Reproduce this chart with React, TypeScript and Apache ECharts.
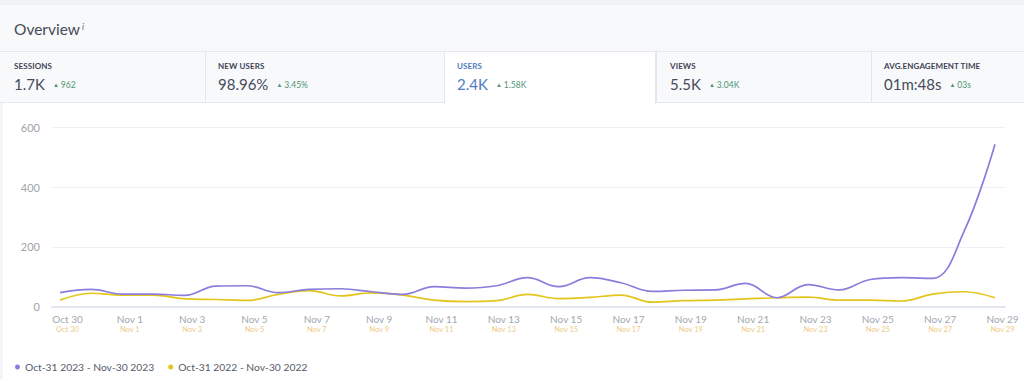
import React, { useEffect, useRef } from "react";
import * as echarts from "echarts";

const categories = [
  "Oct 30", "Oct 31", "Nov 1", "Nov 2", "Nov 3", "Nov 4", "Nov 5", "Nov 6", "Nov 7", "Nov 8",
  "Nov 9", "Nov 10", "Nov 11", "Nov 12", "Nov 13", "Nov 14", "Nov 15", "Nov 16", "Nov 17", "Nov 18",
  "Nov 19", "Nov 20", "Nov 21", "Nov 22", "Nov 23", "Nov 24", "Nov 25", "Nov 26", "Nov 27", "Nov 28", "Nov 29",
];
const current2023 = [
  47, 58, 42, 42, 38, 69, 70, 47, 58, 60,
  50, 41, 67, 62, 70, 97, 67, 97, 80, 51,
  55, 56, 78, 30, 74, 56, 91, 97, 95, 250, 543,
];
const previous2022 = [
  22, 45, 39, 39, 26, 24, 21, 41, 54, 36,
  46, 39, 22, 17, 20, 41, 27, 31, 39, 15,
  20, 22, 26, 30, 32, 22, 22, 19, 42, 50, 30,
];
const seriesNames = ["Oct-31 2023 - Nov-30 2023", "Oct-31 2022 - Nov-30 2022"];
const yTicks = { min: 0, max: 600, interval: 200 };

const tabs = [
  { label: "SESSIONS", value: "1.7K", delta: "962", left: 0, width: 205, x: 14 },
  { label: "NEW USERS", value: "98.96%", delta: "3.45%", left: 205, width: 239, x: 218 },
  { label: "USERS", value: "2.4K", delta: "1.58K", left: 444, width: 212, x: 457, active: true },
  { label: "VIEWS", value: "5.5K", delta: "3.04K", left: 656, width: 215, x: 670 },
  { label: "AVG.ENGAGEMENT TIME", value: "01m:48s", delta: "03s", left: 871, width: 153, x: 884 },
];

const FONT = "Lato, 'Open Sans', sans-serif";

function Chart() {
  const ref = useRef<HTMLDivElement>(null);
  useEffect(() => {
    if (!ref.current) return;
    const chart = echarts.init(ref.current, undefined, { renderer: "svg" });
    chart.setOption({
      animation: false,
      textStyle: { fontFamily: FONT },
      legend: {
        left: 10,
        top: 254,
        icon: "circle",
        itemWidth: 5,
        itemHeight: 5,
        itemGap: 14,
        textStyle: { fontSize: 10.3, color: "#555b68", fontFamily: FONT },
        data: seriesNames,
      },
      grid: [
        { left: 52, right: 19, top: 24.3, bottom: 72.3 },
        { left: 60, right: 29, top: 24.3, bottom: 72.3 },
      ],
      xAxis: [
        {
          gridIndex: 0,
          type: "category",
          data: categories,
          boundaryGap: false,
          axisLine: { show: true, lineStyle: { color: "#e2e6ee", width: 2 } },
          axisTick: { show: false },
          axisLabel: { show: false },
          splitLine: { show: false },
        },
        {
          gridIndex: 1,
          type: "category",
          data: categories,
          boundaryGap: false,
          axisLine: { show: false },
          axisTick: { show: false },
          splitLine: { show: false },
          axisLabel: {
            interval: 1,
            margin: 6,
            padding: [0, 0, 0, 15],
            formatter: (v: string) => `{a|${v}}\n{b|${v}}`,
            rich: {
              a: { fontSize: 10, color: "#a3a7b0", lineHeight: 12, fontFamily: FONT, align: "center" },
              b: { fontSize: 7.5, color: "#eecb85", lineHeight: 10, fontFamily: FONT, align: "center" },
            },
          },
        },
      ],
      yAxis: [
        {
          gridIndex: 0,
          type: "value",
          min: yTicks.min,
          max: yTicks.max,
          interval: yTicks.interval,
          axisLine: { show: false },
          axisTick: { show: false },
          axisLabel: { color: "#a0a4ad", fontSize: 11, margin: 12, fontFamily: FONT },
          splitLine: { lineStyle: { color: "#eef0f4", width: 1 } },
        },
        {
          gridIndex: 1,
          type: "value",
          min: yTicks.min,
          max: yTicks.max,
          interval: yTicks.interval,
          show: false,
          splitLine: { show: false },
        },
      ],
      series: [
        {
          name: seriesNames[0],
          type: "line",
          xAxisIndex: 1,
          yAxisIndex: 1,
          data: current2023,
          smooth: 0.4,
          showSymbol: false,
          lineStyle: { color: "#8a7ddc", width: 1.7 },
          itemStyle: { color: "#8a7ddc" },
          z: 3,
        },
        {
          name: seriesNames[1],
          type: "line",
          xAxisIndex: 1,
          yAxisIndex: 1,
          data: previous2022,
          smooth: 0.4,
          showSymbol: false,
          lineStyle: { color: "#e3c51c", width: 1.7 },
          itemStyle: { color: "#e3c51c" },
          z: 2,
        },
      ],
    });
    return () => chart.dispose();
  }, []);
  return <div ref={ref} style={{ position: "absolute", left: 0, top: 0, width: 1024, height: 276 }} />;
}

export default function App() {
  useEffect(() => {
    document.body.style.margin = "0";
  }, []);
  return (
    <div style={{ position: "relative", width: 1024, height: 379, background: "#f4f5f8", fontFamily: FONT, overflow: "hidden" }}>
      <div style={{ position: "absolute", left: 0, top: 0, width: 1024, height: 5, background: "#f1f2f6" }} />
      <div style={{ position: "absolute", left: 0, top: 5, width: 1024, height: 46, background: "#f8f9fb" }}>
        <span style={{ position: "absolute", left: 14, top: 12, fontSize: 15.5, lineHeight: "20px", color: "#474b57" }}>
          Overview<sup style={{ fontSize: 9, fontStyle: "italic", color: "#666", marginLeft: 2, verticalAlign: "5px" }}>i</sup>
        </span>
      </div>
      <div style={{ position: "absolute", left: 0, top: 51, width: 1024, height: 1, background: "#e4e6eb" }} />
      <div style={{ position: "absolute", left: 0, top: 52, width: 1024, height: 51, background: "#f8f9fb" }} />
      <div style={{ position: "absolute", left: 0, top: 102, width: 1024, height: 1, background: "#e6e8ed" }} />
      {tabs.map((t) => (
        <div
          key={t.label}
          style={{
            position: "absolute",
            left: t.left,
            top: 52,
            width: t.width,
            height: t.active ? 52 : 50,
            background: t.active ? "#ffffff" : "transparent",
            borderLeft: t.left > 0 ? "1px solid #e4e6eb" : "none",
            borderRight: t.active ? "1px solid #e4e6eb" : "none",
            boxSizing: "border-box",
            zIndex: t.active ? 2 : 1,
          }}
        >
          <span
            style={{
              position: "absolute",
              left: t.x - t.left - (t.left > 0 ? 1 : 0),
              top: 9,
              fontSize: 8,
              lineHeight: "10px",
              fontWeight: 700,
              color: t.active ? "#4d7cbc" : "#3f4454",
              letterSpacing: 0.1,
              whiteSpace: "nowrap",
            }}
          >
            {t.label}
          </span>
          <span
            style={{
              position: "absolute",
              left: t.x - t.left - (t.left > 0 ? 1 : 0),
              top: 23,
              fontSize: 15,
              lineHeight: "18px",
              color: t.active ? "#4d7cbc" : "#454a5a",
              whiteSpace: "nowrap",
            }}
          >
            {t.value}
            <span style={{ fontSize: 8.5, color: "#4f9474", marginLeft: 8, verticalAlign: "2px" }}>
              <span style={{ fontSize: 6, verticalAlign: "1px", marginRight: 2 }}>▲</span>
              {t.delta}
            </span>
          </span>
        </div>
      ))}
      <div style={{ position: "absolute", left: 3, top: 103, width: 1021, height: 276, background: "#ffffff" }} />
      <div style={{ position: "absolute", left: 0, top: 103, width: 1024, height: 276 }}>
        <Chart />
      </div>
    </div>
  );
}
